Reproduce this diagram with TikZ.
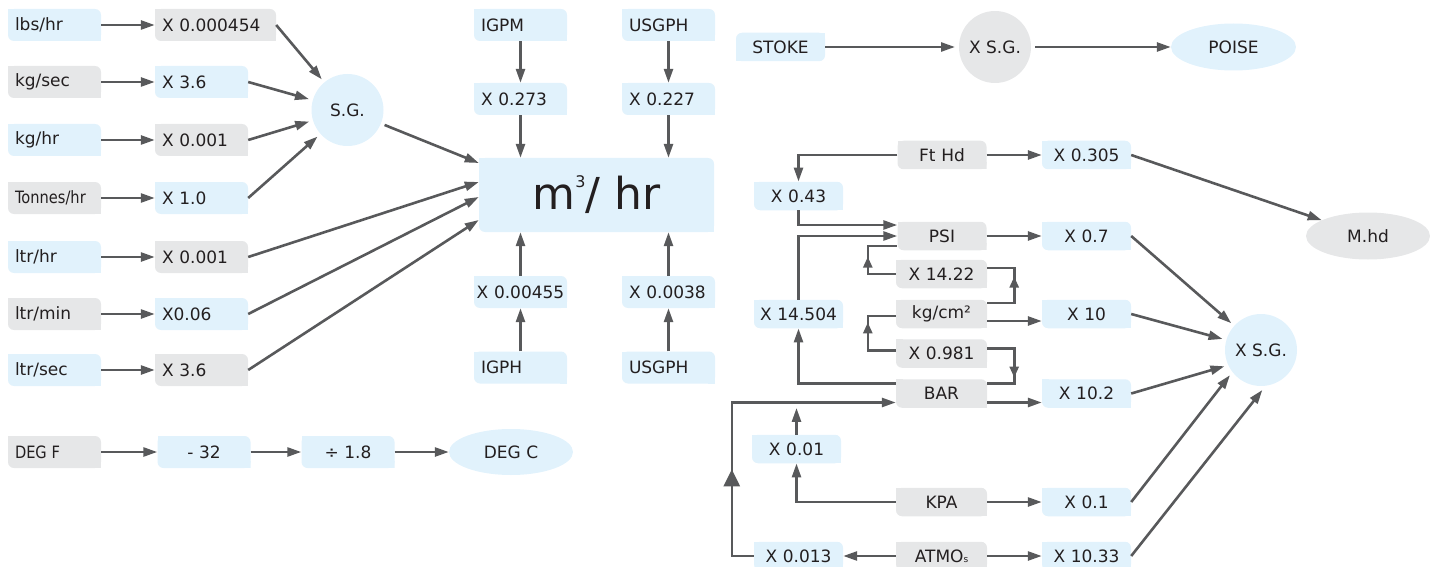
\documentclass[tikz,border=0pt]{standalone}
\usepackage{fontspec}
\setmainfont{DejaVu Sans}
\usepackage{xcolor}
\usetikzlibrary{arrows.meta,shapes.geometric,decorations.markings}
\definecolor{sky}{HTML}{E1F2FC}
\definecolor{mist}{HTML}{E6E7E8}
\definecolor{wire}{HTML}{58595B}
\definecolor{ink}{HTML}{231F20}
\tikzset{
  every node/.style={font=\fontsize{17}{20}\selectfont, text=ink},
  leaf/.style={fill=white, path picture={
    \fill[#1, rounded corners=6pt] (path picture bounding box.south west) rectangle (path picture bounding box.north east);
    \fill[#1] (path picture bounding box.north west) rectangle ++(7pt,-7pt);
    \fill[#1] (path picture bounding box.south east) rectangle ++(-7pt,7pt);}},
  leafb/.style={fill=white, path picture={
    \fill[#1, rounded corners=6pt] (path picture bounding box.south west) rectangle (path picture bounding box.north east);
    \fill[#1] (path picture bounding box.north east) rectangle ++(-7pt,-7pt);
    \fill[#1] (path picture bounding box.south west) rectangle ++(7pt,7pt);}},
  unitbox/.style={leaf=#1, minimum height=32pt, inner ysep=0pt, inner xsep=7pt, text width=79pt, align=left},
  convbox/.style={leaf=#1, minimum height=28.5pt, inner ysep=0pt, inner xsep=0pt, text width=89pt, align=center},
  disc/.style={circle, fill=#1, minimum size=72pt, inner sep=0pt, outer sep=4pt},
  oval/.style={ellipse, fill=#1, minimum width=124pt, minimum height=47pt, inner sep=0pt},
  wireline/.style={draw=wire, line width=2.6pt},
  flow/.style={wireline, -{Triangle[length=14pt,width=9pt]}},
  midtip/.style={decoration={markings, mark=at position #1 with {\arrow[wire]{Triangle[length=11pt,width=9pt]}}}, postaction={decorate}},
  bigtip/.style={decoration={markings, mark=at position #1 with {\arrow[wire]{Triangle[length=17pt,width=16pt]}}}, postaction={decorate}},
}
\newcommand{\narrow}[1]{\scalebox{0.86}[1]{#1}}
\begin{document}
\begin{tikzpicture}[x=1pt,y=-1pt]
\useasboundingbox (0,0) rectangle (1438,567);

\node[unitbox=sky] (lbs) at (54.5,25) {lbs/hr};
\node[unitbox=mist] (kgs) at (54.5,82) {kg/sec};
\node[unitbox=sky] (kgh) at (54.5,140) {kg/hr};
\node[unitbox=mist] (tph) at (54.5,198) {\narrow{Tonnes/hr}};
\node[unitbox=sky] (lph) at (54.5,257) {ltr/hr};
\node[unitbox=mist] (lpm) at (54.5,314) {ltr/min};
\node[unitbox=sky] (lps) at (54.5,370) {ltr/sec};
\node[unitbox=mist] (degf) at (54.5,452) {\narrow{DEG F}};

\node[unitbox=mist, text width=107pt] (flbs) at (215.5,25) {X 0.000454};
\node[unitbox=sky] (fkgs) at (201.5,82) {X 3.6};
\node[unitbox=mist] (fkgh) at (201.5,140) {X 0.001};
\node[unitbox=sky] (ftph) at (201.5,198) {X 1.0};
\node[unitbox=mist] (flph) at (201.5,257) {X 0.001};
\node[unitbox=sky] (flpm) at (201.5,314) {X0.06};
\node[unitbox=mist] (flps) at (201.5,370) {X 3.6};
\node[unitbox=sky, align=center] (minus) at (204,452) {- 32};
\node[unitbox=sky, align=center] (div) at (348,452) {÷ 1.8};
\node[oval=sky, minimum height=46pt] (degc) at (511,452) {DEG C};

\node[disc=sky] (sg) at (347.5,110) {S.G.};
\node[leaf=sky, minimum width=235pt, minimum height=74pt, font=\fontsize{44}{50}\selectfont] (m3) at (596.5,195) {m\raisebox{22pt}{\fontsize{16}{16}\selectfont 3}/ hr};

\node[unitbox=sky] (igpm) at (520.5,25) {IGPM};
\node[unitbox=sky] (f0273) at (520.5,99) {X 0.273};
\node[unitbox=sky, inner xsep=1pt, text width=91pt, align=center] (f00455) at (520.5,292) {X 0.00455};
\node[unitbox=sky] (igph) at (520.5,367.5) {IGPH};
\node[unitbox=sky] (usgpm) at (668.5,25) {USGPH};
\node[unitbox=sky] (f0227) at (668.5,99) {X 0.227};
\node[unitbox=sky] (f00038) at (668.5,292) {X 0.0038};
\node[unitbox=sky] (usgph) at (668.5,367.5) {USGPH};

\node[convbox=sky, leafb=sky] (stoke) at (780.5,47) {STOKE};
\node[disc=mist] (xsgtop) at (995,47) {X S.G.};
\node[oval=sky, minimum width=125pt] (poise) at (1233.5,47) {POISE};

\node[convbox=mist] (fthd) at (942,155) {Ft Hd};
\node[convbox=sky] (f0305) at (1086.5,155) {X 0.305};
\node[convbox=sky] (f043) at (798.5,196) {X 0.43};
\node[convbox=mist] (psi) at (942,236) {PSI};
\node[convbox=sky] (f07) at (1086.5,236) {X 0.7};
\node[convbox=mist, text width=91pt] (f1422) at (941.5,274) {X 14.22};
\node[convbox=mist, text width=91pt] (kgcm) at (941.5,314) {kg/cm²};
\node[convbox=sky] (f10) at (1086.5,314) {X 10};
\node[convbox=sky] (f14504) at (798.5,314) {X 14.504};
\node[convbox=mist, text width=91pt] (f0981) at (941.5,353.5) {X 0.981};
\node[convbox=mist, text width=91pt] (bar) at (941.5,393.5) {BAR};
\node[convbox=sky] (f102) at (1086.5,393.5) {X 10.2};
\node[convbox=sky] (f001) at (796.5,449) {X 0.01};
\node[convbox=mist, text width=91pt] (kpa) at (941.5,502) {KPA};
\node[convbox=sky] (f01) at (1086.5,502) {X 0.1};
\node[convbox=sky] (f0013) at (798.5,556) {X 0.013};
\node[convbox=mist, text width=91pt] (atmos) at (941.5,556) {ATMO{\small s}};
\node[convbox=sky] (f1033) at (1086.5,556) {X 10.33};
\node[oval=mist] (mhd) at (1368,236) {M.hd};
\node[disc=sky] (xsg) at (1261,350) {X S.G.};

\draw[flow] (lbs.east) -- (flbs.west);
\draw[flow] (kgs.east) -- (fkgs.west);
\draw[flow] (kgh.east) -- (fkgh.west);
\draw[flow] (tph.east) -- (ftph.west);
\draw[flow] (lph.east) -- (flph.west);
\draw[flow] (lpm.east) -- (flpm.west);
\draw[flow] (lps.east) -- (flps.west);
\draw[flow] (degf.east) -- (minus.west);
\draw[flow] (minus.east) -- (div.west);
\draw[flow] (div.east) -- (div.east -| degc.west);

\draw[flow] (flbs.east) -- (sg);
\draw[flow] (fkgs.east) -- (sg);
\draw[flow] (fkgh.east) -- (sg);
\draw[flow] (ftph.east) -- (sg);
\draw[flow] (sg) -- ([yshift=32pt]m3.west);
\draw[flow] (flph.east) -- ([yshift=13pt]m3.west);
\draw[flow] (flpm.east) -- ([yshift=-2pt]m3.west);
\draw[flow] (flps.east) -- ([yshift=-25pt]m3.west);

\draw[flow] (igpm.south) -- (f0273.north);
\draw[flow] (f0273.south) -- (f0273.south |- m3.north);
\draw[flow] (usgpm.south) -- (f0227.north);
\draw[flow] (f0227.south) -- (f0227.south |- m3.north);
\draw[flow] (igph.north) -- (f00455.south);
\draw[flow] (f00455.north) -- (f00455.north |- m3.south);
\draw[flow] (usgph.north) -- (f00038.south);
\draw[flow] (f00038.north) -- (f00038.north |- m3.south);

\draw[flow] (stoke.east) -- (xsgtop);
\draw[flow] (xsgtop) -- (poise.west);

\draw[flow] (fthd.east) -- (f0305.west);
\draw[flow] (fthd.west) -| (f043.north);
\draw[flow] (f043.south) |- ([yshift=11pt]psi.west);
\draw[flow] (f14504.north) |- (psi.west);
\draw[flow] ([yshift=10pt]bar.west) -| (f14504.south);
\draw[flow] (psi.east) -- (f07.west);
\draw[wireline, midtip=0.6] ([yshift=11pt]kgcm.east) -- ++(27,0) |- ([yshift=6pt]f1422.east);
\draw[wireline, midtip=0.53] (f1422.west) -- ++(-28,0) |- ([yshift=-10pt]psi.west);
\draw[flow] ([yshift=-7pt]kgcm.east) -- ([yshift=-7pt]kgcm.east -| f10.west);
\draw[wireline, midtip=0.62] ([yshift=3pt]f0981.west) -- ++(-28,0) |- ([yshift=-2pt]kgcm.west);
\draw[wireline, midtip=0.63] ([yshift=5pt]f0981.east) -- ++(27,0) |- ([yshift=10pt]bar.east);
\draw[flow] ([yshift=-9pt]bar.east) -- ([yshift=-9pt]bar.east -| f102.west);
\draw[flow, bigtip=0.32] (f0013.west) -- ++(-22,0) |- ([yshift=-9pt]bar.west);
\draw[flow] (f001.north) -- (f001.north |- bar.south);
\draw[flow] (kpa.west) -| (f001.south);
\draw[flow] (kpa.east) -- (f01.west);
\draw[flow] (atmos.west) -- (f0013.east);
\draw[flow] (atmos.east) -- (f1033.west);

\draw[flow] (f0305.east) -- (mhd);
\draw[flow] (f07.east) -- (xsg.138);
\draw[flow] (f10.east) -- (xsg.164);
\draw[flow] (f102.east) -- (xsg.204);
\draw[flow] (f01.east) -- (xsg.219);
\draw[flow] (f1033.east) -- (xsg.272);
\end{tikzpicture}
\end{document}
